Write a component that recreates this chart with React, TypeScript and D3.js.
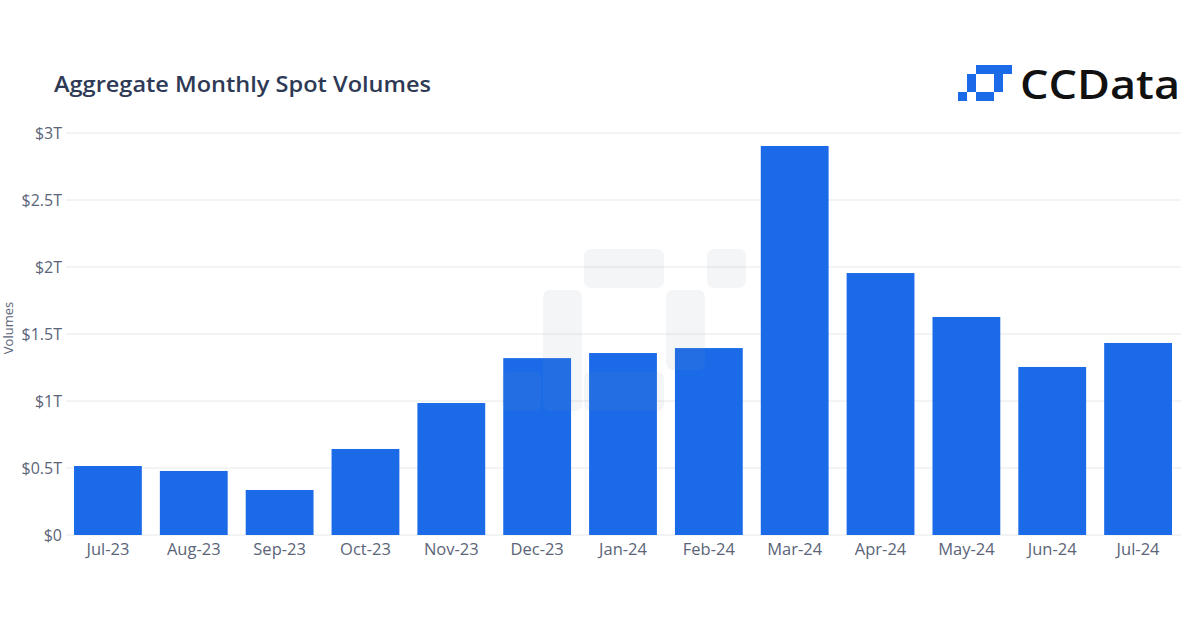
import React from "react";
import * as d3 from "d3";

const categories = ["Jul-23","Aug-23","Sep-23","Oct-23","Nov-23","Dec-23","Jan-24","Feb-24","Mar-24","Apr-24","May-24","Jun-24","Jul-24"];
const volumes = [0.515, 0.478, 0.336, 0.642, 0.985, 1.32, 1.358, 1.395, 2.903, 1.955, 1.627, 1.254, 1.433];
const yTicks = [0, 0.5, 1, 1.5, 2, 2.5, 3];
const yTickLabels = ["$0", "$0.5T", "$1T", "$1.5T", "$2T", "$2.5T", "$3T"];

// logo cells [col,row,colspan,rowspan]
const logoCells = [[2,0,3,1],[5,0,1,1],[1,1,1,2],[4,1,1,2],[2,3,2,1],[0,3,1,1]];
const watermarkCells = [[2,0,2,1],[5,0,1,1],[1,1,1,3],[4,1,1,2],[2,3,2,1],[0,3,1,1]];

export default function App() {
  const W = 1200, H = 628;
  const left = 65, right = 1181, top = 133, bottom = 535;
  const x = d3.scaleBand().domain(categories).range([left, right]).paddingInner(0.21).paddingOuter(0.105);
  const y = d3.scaleLinear().domain([0, 3]).range([bottom, top]);
  const textColor = "#5b6478";
  const font = "'Open Sans', 'Noto Sans', sans-serif";
  const wu = 41, wx = 501, wy = 248;
  const lu = 9, lx = 958, ly = 65;
  return (
    <svg width={W} height={H} style={{ position: "absolute", left: 0, top: 0, background: "#fff" }} fontFamily={font}>
      <rect width={W} height={H} fill="#fff" />
      <text x={54} y={92} fontSize={22} fontWeight={600} fill="#2e3a55" textLength={377} lengthAdjust="spacingAndGlyphs">Aggregate Monthly Spot Volumes</text>
      {logoCells.map((c, i) => (
        <rect key={i} x={lx + c[0] * lu} y={ly + c[1] * lu} width={c[2] * lu} height={c[3] * lu} fill="#1b6be9" />
      ))}
      <text x={1020} y={99} fontSize={40} fontWeight={600} fill="#111" textLength={160} lengthAdjust="spacingAndGlyphs">CCData</text>
      {yTicks.map((t, i) => (
        <g key={t}>
          <line x1={left + 1} x2={right} y1={y(t)} y2={y(t)} stroke="#e6e8ec" strokeWidth={1} />
          <text x={62} y={y(t) + 5.5} textAnchor="end" fontSize={16} fill={textColor}>{yTickLabels[i]}</text>
        </g>
      ))}
      <text transform={`translate(13,${(top + bottom) / 2 - 6}) rotate(-90)`} textAnchor="middle" fontSize={13} fill={textColor}>Volumes</text>
      {categories.map((c, i) => (
        <g key={c}>
          <rect x={x(c)} y={y(volumes[i])} width={x.bandwidth()} height={y(0) - y(volumes[i])} fill="#1b6be9" />
          <text x={(x(c) as number) + x.bandwidth() / 2} y={555} textAnchor="middle" fontSize={16.5} fill={textColor}>{c}</text>
        </g>
      ))}
      {watermarkCells.map((c, i) => (
        <rect key={i} x={wx + c[0] * wu + 1} y={wy + c[1] * wu + 1} width={c[2] * wu - 2} height={c[3] * wu - 2} rx={7} fill="#8a94a6" opacity={0.09} />
      ))}
    </svg>
  );
}
